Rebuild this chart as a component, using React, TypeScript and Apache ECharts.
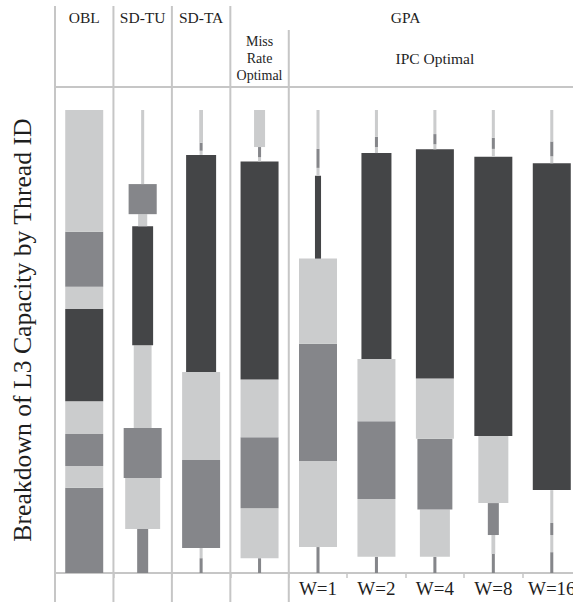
import React, { useEffect, useRef } from "react";
import * as echarts from "echarts";

// Columns of the chart (left to right)
const categories = ["OBL", "SD-TU", "SD-TA", "Miss Rate Optimal", "W=1", "W=2", "W=4", "W=8", "W=16"];
const axisLabels = ["", "", "", "", "W=1", "W=2", "W=4", "W=8", "W=16"];

// Header cells: text, first column, last column, header row
const headerTexts = ["OBL", "SD-TU", "SD-TA", "GPA", "Miss\nRate\nOptimal", "IPC Optimal"];
const headerFrom = [0, 1, 2, 3, 3, 4];
const headerTo = [0, 1, 2, 8, 3, 8];
const headerRow = [0, 0, 0, 0, 1, 1];

// Segments, bottom to top: [share of L3 capacity (%), relative width, shade (0 light, 1 medium, 2 dark)]
const obl = [[18.4, 1, 1], [4.7, 1, 0], [6.9, 1, 1], [7.1, 1, 0], [19.9, 1, 2], [4.8, 1, 0], [11.9, 1, 1], [26.3, 1, 0]];
const sdTu = [[9.5, 0.29, 1], [11.0, 0.92, 0], [10.8, 1, 1], [17.9, 0.47, 0], [25.7, 0.55, 2], [2.6, 0.24, 0], [6.5, 0.74, 1], [16.0, 0.08, 0]];
const sdTa = [[3.2, 0.08, 1], [2.2, 0.08, 0], [19.0, 1, 1], [19.0, 1, 0], [46.9, 0.79, 2], [0.9, 0.08, 0], [1.7, 0.08, 1], [7.1, 0.1, 0]];
const missOpt = [[3.2, 0.08, 1], [10.8, 1, 0], [15.3, 1, 1], [12.5, 1, 0], [47.1, 1, 2], [0.9, 0.08, 0], [2.2, 0.08, 1], [8.0, 0.29, 0]];
const w1 = [[5.6, 0.08, 1], [18.6, 1, 0], [25.3, 1, 1], [18.4, 1, 0], [17.9, 0.16, 2], [1.7, 0.08, 0], [4.1, 0.08, 1], [8.4, 0.08, 0]];
const w2 = [[3.5, 0.08, 1], [12.5, 1, 0], [16.8, 1, 1], [13.4, 1, 0], [44.5, 0.79, 2], [1.3, 0.08, 0], [2.2, 0.08, 1], [5.8, 0.08, 0]];
const w4 = [[3.5, 0.08, 1], [10.2, 0.79, 0], [15.3, 0.92, 1], [13.0, 1, 0], [49.5, 1, 2], [1.1, 0.08, 0], [2.2, 0.08, 1], [5.2, 0.08, 0]];
const w8 = [[4.1, 0.08, 1], [4.1, 0.1, 0], [6.9, 0.29, 1], [14.5, 0.79, 0], [60.3, 1, 2], [1.7, 0.08, 0], [2.4, 0.08, 1], [6.0, 0.08, 0]];
const w16 = [[4.5, 0.08, 1], [3.7, 0.08, 0], [2.6, 0.08, 1], [7.1, 0.08, 0], [70.6, 1, 2], [1.5, 0.08, 0], [3.2, 0.08, 1], [6.8, 0.08, 0]];

const columns = [obl, sdTu, sdTa, missOpt, w1, w2, w4, w8, w16];

const yTitle = "Breakdown of L3 Capacity by Thread ID";

const SHADES = ["#cbcccd", "#85868a", "#444547"];
const LINE = "#c6c6c6";
const FAMILY = '"Liberation Serif", "Times New Roman", serif';
const TEXT = "#1e1e1e";
const CHART_W = 581; // wider than the page: the last column is cut off, as in the original

export default function App() {
  const ref = useRef<HTMLDivElement>(null);

  useEffect(() => {
    document.body.style.margin = "0";
    if (!ref.current) return;
    const chart = echarts.init(ref.current, undefined, { renderer: "svg" });

    const segData: number[][] = [];
    columns.forEach((segs, ci) => {
      let acc = 0;
      segs.forEach((s) => {
        segData.push([ci, acc, acc + s[0], s[1], s[2]]);
        acc += s[0];
      });
    });

    // dividers at the left edge of each header cell
    const boundarySet = Array.from(new Set(headerFrom)).sort((a, b) => a - b);
    const dividerData = boundarySet.map((b) => {
      const inside = headerTexts.some((_, i) => headerRow[i] === 0 && headerFrom[i] < b && b <= headerTo[i]);
      return [b, inside ? 1 : 0];
    });

    const baseGraphics: any[] = [
      {
        id: "headerLine",
        type: "line",
        shape: { x1: 55, y1: 87, x2: CHART_W, y2: 87 },
        style: { stroke: LINE, lineWidth: 2 },
        silent: true,
      },
      {
        id: "yTitle",
        type: "text",
        x: 22,
        y: 330,
        rotation: Math.PI / 2,
        style: {
          text: yTitle,
          font: `25.7px ${FAMILY}`,
          fill: TEXT,
          textAlign: "center",
          textVerticalAlign: "middle",
          align: "center",
          verticalAlign: "middle",
        },
        silent: true,
      },
    ];

    const option: any = {
      animation: false,
      backgroundColor: "#ffffff",
      grid: { left: 55, right: 0, top: 110, bottom: 29 },
      xAxis: {
        type: "category",
        data: categories,
        boundaryGap: true,
        axisLine: { show: true, lineStyle: { color: LINE, width: 2 } },
        axisTick: { show: true, length: 5, interval: 0, lineStyle: { color: LINE, width: 1.5 } },
        axisLabel: {
          interval: 0,
          formatter: (_v: string, i: number) => axisLabels[i],
          fontFamily: FAMILY,
          fontSize: 19,
          color: TEXT,
          margin: 6,
        },
        splitLine: { show: false },
      },
      yAxis: { type: "value", min: 0, max: 100, show: false },
      graphic: baseGraphics,
      series: [
        {
          type: "custom",
          name: "dividers",
          clip: false,
          silent: true,
          data: dividerData,
          encode: { x: 0, y: 1 },
          renderItem: (_p: any, api: any) => {
            const b = api.value(0);
            const band = api.size([1, 0])[0];
            const x = api.coord([b, 0])[0] - band / 2;
            const top = api.value(1) ? 30 : 6;
            return {
              type: "line",
              shape: { x1: x, y1: top, x2: x, y2: 602 },
              style: { stroke: LINE, lineWidth: 2 },
            };
          },
        },
        {
          type: "custom",
          name: "segments",
          clip: false,
          data: segData,
          encode: { x: 0, y: [1, 2] },
          renderItem: (_p: any, api: any) => {
            const c = api.value(0);
            const p0 = api.coord([c, api.value(1)]);
            const p1 = api.coord([c, api.value(2)]);
            const band = api.size([1, 0])[0];
            const w = band * 0.65 * api.value(3);
            return {
              type: "rect",
              shape: { x: p0[0] - w / 2, y: p1[1], width: w, height: p0[1] - p1[1] },
              style: { fill: SHADES[api.value(4)] },
            };
          },
        },
      ],
    };

    chart.setOption(option);

    // header texts, centred over the columns they span (positions from the x axis)
    const cx = (i: number) => chart.convertToPixel({ xAxisIndex: 0 } as any, i) as unknown as number;
    const headerGraphics = headerTexts.map((text, i) => {
      const multi = text.indexOf("\n") >= 0;
      return {
        id: "header" + i,
        type: "text",
        x: (cx(headerFrom[i]) + cx(headerTo[i])) / 2,
        y: headerRow[i] === 0 ? 17.5 : 58.5,
        silent: true,
        style: {
          text,
          font: `${multi ? 14 : 15.5}px ${FAMILY}`,
          lineHeight: 16.7,
          fill: TEXT,
          textAlign: "center",
          textVerticalAlign: "middle",
          align: "center",
          verticalAlign: "middle",
        },
      };
    });
    chart.setOption({ graphic: [...baseGraphics, ...headerGraphics] });

    return () => chart.dispose();
  }, []);

  return (
    <div style={{ width: 573, height: 602, overflow: "hidden", position: "absolute", left: 0, top: 0, background: "#fff" }}>
      <div ref={ref} style={{ width: CHART_W, height: 602 }} />
    </div>
  );
}
